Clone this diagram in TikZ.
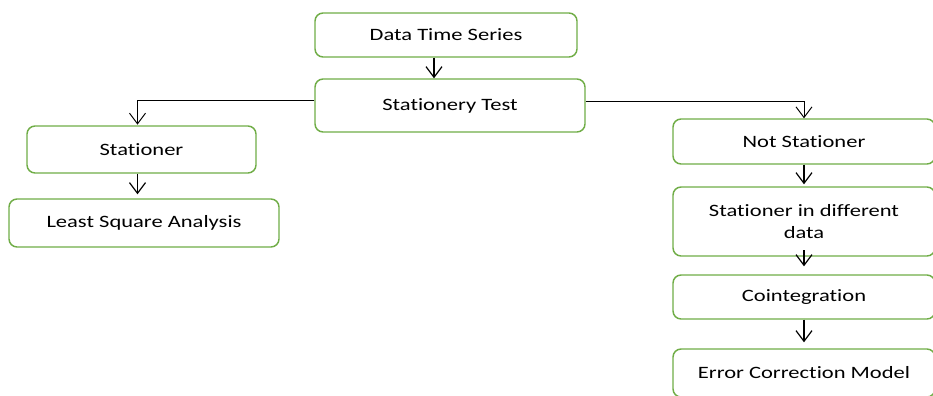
\documentclass[tikz,border=0pt]{standalone}
\usepackage{fontspec}
\setmainfont{Carlito}[FakeStretch=1.3, Ligatures=NoCommon]
\usepackage{xcolor}
\usetikzlibrary{arrows.meta,positioning}
\definecolor{boxgreen}{HTML}{70AD47}

\begin{document}
\begin{tikzpicture}[
    x=0.75pt, y=-0.75pt,
    >={Straight Barb[length=8pt,width=12pt]},
    block/.style={draw=boxgreen, line width=1.1pt, rounded corners=6pt, inner sep=0pt, align=center, fill=white, font=\fontsize{13}{17}\selectfont},
    link/.style={->, line width=0.9pt},
    branch/.style={->, line width=0.7pt}
]
\useasboundingbox (0,0) rectangle (933,396);
\clip (0,0) rectangle (933,396);

% top
\node[block, minimum width=196.5pt, minimum height=33pt] (dts) at (446,35) {Data Time Series};
\node[block, minimum width=202.5pt, minimum height=39.75pt] (test) at (450,105.5) {Stationery Test};

% left branch
\node[block, minimum width=171.75pt, minimum height=35.25pt] (stat) at (141.5,149.5) {Stationer};
\node[block, minimum width=202.5pt, minimum height=36pt] (lsa) at (144,223) {Least Square Analysis};

% right branch
\node[block, minimum width=196.5pt, minimum height=33.75pt] (nstat) at (804,141.5) {Not Stationer};
\node[block, minimum width=196.5pt, minimum height=51.75pt] (diff) at (804,221.5) {Stationer in different\\data};
\node[block, minimum width=196.5pt, minimum height=33pt] (coint) at (804,297) {Cointegration};
\node[block, minimum width=196.5pt, minimum height=36pt] (ecm) at (804,373) {Error Correction Model};

\draw[link] ([xshift=-9pt]dts.south) -- ([xshift=-9pt]dts.south |- test.north);
\draw[branch, shorten >=0.5pt] ([yshift=4pt]test.west) -| ([xshift=-3pt]stat.north);
\draw[link, shorten >=3pt] ([xshift=-3pt]stat.south) -- ([xshift=-3pt]stat.south |- lsa.north);
\draw[branch] ([yshift=3pt]test.east) -| (nstat.north);
\draw[link, shorten >=1.5pt] (nstat.south) -- (diff.north);
\draw[link, shorten >=6pt] ([yshift=5pt]diff.south) -- (coint.north);
\draw[link, shorten >=4.5pt] (coint.south) -- (ecm.north);
\end{tikzpicture}
\end{document}
